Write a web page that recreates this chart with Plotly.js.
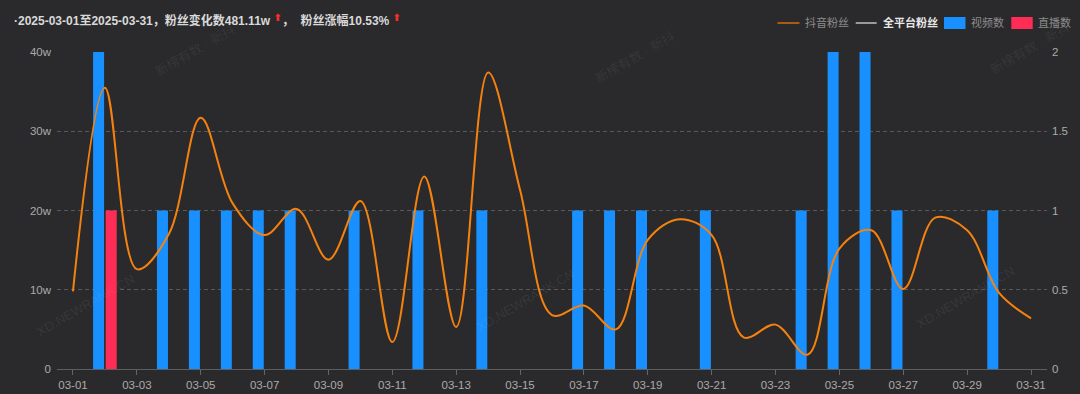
<!DOCTYPE html>
<html>
<head>
<meta charset="utf-8">
<script src="https://cdn.plot.ly/plotly-3.0.1.min.js"></script>
<style>
html,body{margin:0;padding:0;background:#2a2a2c;}
#chart{width:1080px;height:394px;}
</style>
</head>
<body>
<div id="chart"></div>
<script>
// ---- data ----
const dates = ['03-01','03-02','03-03','03-04','03-05','03-06','03-07','03-08','03-09','03-10',
  '03-11','03-12','03-13','03-14','03-15','03-16','03-17','03-18','03-19','03-20',
  '03-21','03-22','03-23','03-24','03-25','03-26','03-27','03-28','03-29','03-30','03-31'];
// 抖音粉丝 (unit: w = 万)
const douyinFans = [9.8, 35.5, 12.6, 17.0, 31.7, 20.9, 16.9, 20.2, 13.8, 21.2,
  3.4, 24.3, 5.3, 37.4, 22.6, 6.8, 8.0, 5.0, 16.3, 18.9,
  16.9, 4.0, 5.6, 1.8, 15.2, 17.5, 10.1, 19.1, 17.5, 9.6, 6.4];
// 视频数
const videoCount = [0, 2, 0, 1, 1, 1, 1, 1, 0, 1,
  0, 1, 0, 1, 0, 0, 1, 1, 1, 0,
  1, 0, 0, 1, 2, 2, 1, 0, 0, 1, 0];
// 直播数
const liveCount = [0, 1, 0, 0, 0, 0, 0, 0, 0, 0,
  0, 0, 0, 0, 0, 0, 0, 0, 0, 0,
  0, 0, 0, 0, 0, 0, 0, 0, 0, 0, 0];
const xTickLabels = dates.filter((d, i) => i % 2 === 0);
const leftTicks = [0, 10, 20, 30, 40];
const leftTickText = ['0', '10w', '20w', '30w', '40w'];
const rightTicks = [0, 0.5, 1, 1.5, 2];
const rightTickText = ['0', '0.5', '1', '1.5', '2'];
const legendNames = ['抖音粉丝', '全平台粉丝', '视频数', '直播数'];
const ARROW = ' <span style="color:#ff2a2a;font-size:10px;font-family:DejaVu Sans;baseline-shift:4px">⬆</span>';
const titleText = '·2025-03-01至2025-03-31，粉丝变化数481.11w' + ARROW +
  '，  粉丝涨幅10.53%' + ARROW;

// ---- style ----
const FONT = 'Liberation Sans, Noto Sans CJK SC, sans-serif';
const BG = '#2a2a2c';
const ORANGE = '#f5820f';
const BLUE = '#1890ff';
const RED = '#ff2d55';

const ML = 57, MR = 33, MT = 52, MB = 25, W = 1080, H = 394;
const PW = W - ML - MR, PH = H - MT - MB;
const X = px => (px - ML) / PW;
const Y = py => (H - MB - py) / PH;

const traces = [
  {type: 'bar', name: legendNames[2], x: dates, y: videoCount, yaxis: 'y',
   marker: {color: BLUE}, hoverinfo: 'x+y+name', showlegend: false},
  {type: 'bar', name: legendNames[3], x: dates, y: liveCount, yaxis: 'y',
   marker: {color: RED}, hoverinfo: 'x+y+name', showlegend: false},
  {type: 'scatter', mode: 'lines', name: legendNames[0], x: dates, y: douyinFans, yaxis: 'y2',
   line: {color: ORANGE, width: 2, shape: 'spline', smoothing: 1}, showlegend: false}
];

// custom legend (echarts style)
const LY = 23;
const shapes = [
  {type: 'line', xref: 'paper', yref: 'paper', x0: X(777.5), x1: X(799.5), y0: Y(LY), y1: Y(LY),
   line: {color: '#a85b14', width: 2}},
  {type: 'line', xref: 'paper', yref: 'paper', x0: X(855.7), x1: X(876.7), y0: Y(LY), y1: Y(LY),
   line: {color: '#9a9a9a', width: 2}},
  {type: 'rect', xref: 'paper', yref: 'paper', x0: X(944), x1: X(965.5), y0: Y(29), y1: Y(17),
   fillcolor: BLUE, line: {width: 0}},
  {type: 'rect', xref: 'paper', yref: 'paper', x0: X(1011.3), x1: X(1032.7), y0: Y(29), y1: Y(17),
   fillcolor: RED, line: {width: 0}}
];
const legFont = {family: FONT, size: 11, color: '#8c8c8c'};
const annotations = [
  {xref: 'paper', yref: 'paper', x: X(803), y: Y(LY), xanchor: 'left', yanchor: 'middle',
   text: legendNames[0], showarrow: false, font: legFont},
  {xref: 'paper', yref: 'paper', x: X(881), y: Y(LY), xanchor: 'left', yanchor: 'middle',
   text: '<b>' + legendNames[1] + '</b>', showarrow: false, font: Object.assign({}, legFont, {color: '#e8e8e8'})},
  {xref: 'paper', yref: 'paper', x: X(969), y: Y(LY), xanchor: 'left', yanchor: 'middle',
   text: legendNames[2], showarrow: false, font: legFont},
  {xref: 'paper', yref: 'paper', x: X(1036), y: Y(LY), xanchor: 'left', yanchor: 'middle',
   text: legendNames[3], showarrow: false, font: legFont}
];
// faint watermarks
const wmFont = {family: FONT, size: 13, color: 'rgba(255,255,255,0.07)'};
[[195, 50, '新榜有数 · 新抖'], [635, 57, '新榜有数 · 新抖'], [1030, 48, '新榜有数 · 新抖'],
 [85, 305, 'XD.NEWRANK.CN'], [525, 300, 'XD.NEWRANK.CN'], [965, 297, 'XD.NEWRANK.CN']]
 .forEach(w => annotations.push({xref: 'paper', yref: 'paper', x: X(w[0]), y: Y(w[1]),
   xanchor: 'center', yanchor: 'middle', text: w[2], showarrow: false, textangle: -30, font: wmFont}));

const layout = {
  width: W, height: H,
  margin: {l: ML, r: MR, t: MT, b: MB, pad: 0},
  paper_bgcolor: BG, plot_bgcolor: BG,
  font: {family: FONT, color: '#aaaaaa'},
  title: {text: titleText, xref: 'container', yref: 'container', x: 14 / W, xanchor: 'left',
    y: 1 - 21 / H, yanchor: 'middle', font: {family: FONT, size: 12, color: '#d9d9d9', weight: 600}},
  showlegend: false,
  barmode: 'group', bargap: 0.21, bargroupgap: 0.127,
  xaxis: {type: 'category', categoryorder: 'array', categoryarray: dates, range: [-0.5, 30.5],
    tickmode: 'array', tickvals: xTickLabels, ticktext: xTickLabels,
    ticks: 'outside', ticklen: 5, tickwidth: 1, tickcolor: '#666',
    showline: true, linecolor: '#5e5e5e', linewidth: 1, showgrid: false, zeroline: false,
    tickfont: {family: FONT, size: 11.5, color: '#aaaaaa'}, fixedrange: true},
  yaxis: {side: 'right', range: [0, 2], tickmode: 'array', tickvals: rightTicks, ticktext: rightTickText,
    showgrid: true, gridcolor: '#585858', griddash: '4px,3px', gridwidth: 1, zeroline: false,
    showline: false, ticks: '', ticklabelstandoff: 4,
    tickfont: {family: FONT, size: 11.5, color: '#aaaaaa'}, fixedrange: true},
  yaxis2: {side: 'left', overlaying: 'y', range: [0, 40], tickmode: 'array', tickvals: leftTicks,
    ticktext: leftTickText, showgrid: false, zeroline: false, showline: false, ticks: '',
    ticklabelstandoff: 5, tickfont: {family: FONT, size: 11.5, color: '#aaaaaa'}, fixedrange: true},
  shapes: shapes,
  annotations: annotations
};

Plotly.newPlot('chart', traces, layout, {displayModeBar: false, staticPlot: true});
</script>
</body>
</html>
